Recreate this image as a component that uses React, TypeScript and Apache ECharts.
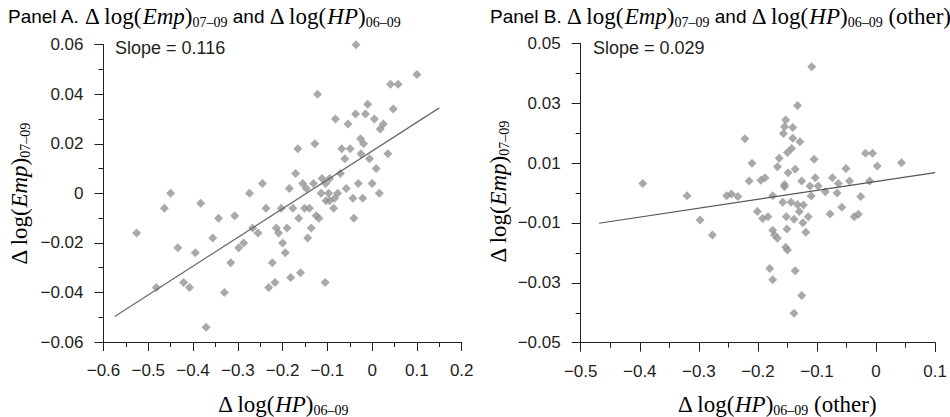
import React, { useEffect, useRef } from "react";
import * as echarts from "echarts";

// ---------- DATA ----------
const panelA_x = [
  -0.036, 0.100, 0.041, 0.058, -0.122, -0.010, 0.047, -0.082, -0.037, -0.015,
  0.005, -0.054, 0.025, 0.018, -0.026, -0.019, -0.128, -0.166, -0.068, -0.049,
  -0.061, -0.025, -0.006, 0.035, 0.009, -0.171, -0.071, -0.112, -0.095, -0.155,
  -0.131, -0.104, -0.245, -0.185, -0.147, -0.058, -0.031, 0.000, -0.450, -0.274,
  -0.114, -0.097, -0.077, -0.043, -0.021, 0.016, -0.464, -0.383, -0.237, -0.203,
  -0.177, -0.151, -0.140, -0.095, -0.086, -0.084, -0.103, -0.343, -0.307, -0.164,
  -0.125, -0.119, -0.041, -0.526, -0.267, -0.255, -0.214, -0.209, -0.190, -0.136,
  -0.144, -0.356, -0.434, -0.395, -0.287, -0.298, -0.200, -0.194, -0.316, -0.223,
  -0.160, -0.182, -0.105, -0.421, -0.408, -0.482, -0.231, -0.217, -0.330, -0.371,
];
const panelA_y = [
  0.060, 0.048, 0.044, 0.044, 0.040, 0.036, 0.034, 0.030, 0.032, 0.032,
  0.030, 0.028, 0.028, 0.026, 0.022, 0.020, 0.020, 0.018, 0.018, 0.018,
  0.014, 0.016, 0.014, 0.016, 0.010, 0.008, 0.008, 0.006, 0.006, 0.004,
  0.004, 0.004, 0.004, 0.002, 0.002, 0.002, 0.004, 0.004, 0.000, 0.000,
  0.000, 0.000, 0.000, -0.002, -0.002, 0.000, -0.006, -0.004, -0.006, -0.006,
  -0.006, -0.006, -0.006, -0.003, -0.006, -0.002, -0.003, -0.010, -0.009, -0.010,
  -0.009, -0.010, -0.010, -0.016, -0.014, -0.016, -0.014, -0.016, -0.014, -0.014,
  -0.018, -0.018, -0.022, -0.024, -0.020, -0.022, -0.020, -0.024, -0.028, -0.028,
  -0.032, -0.034, -0.036, -0.036, -0.038, -0.038, -0.038, -0.036, -0.040, -0.054,
];
const panelB_x = [
  -0.109, -0.133, -0.153, -0.155, -0.141, -0.157, -0.141, -0.129, -0.222, -0.143,
  -0.150, -0.164, -0.105, -0.210, -0.018, -0.006, 0.002, 0.043, -0.167, -0.137,
  -0.149, -0.051, -0.395, -0.215, -0.195, -0.188, -0.103, -0.074, -0.045, -0.011,
  -0.155, -0.155, -0.126, -0.112, -0.098, -0.086, -0.064, -0.066, -0.320, -0.253,
  -0.245, -0.234, -0.175, -0.026, -0.158, -0.144, -0.133, -0.123, -0.110, -0.201,
  -0.192, -0.183, -0.152, -0.130, -0.115, -0.139, -0.124, -0.298, -0.078, -0.058,
  -0.037, -0.030, -0.277, -0.175, -0.172, -0.167, -0.151, -0.119, -0.153, -0.150,
  -0.180, -0.137, -0.175, -0.126, -0.139,
];
const panelB_y = [
  0.0422, 0.0292, 0.0244, 0.0221, 0.0219, 0.0199, 0.0183, 0.0171, 0.0181, 0.0149,
  0.0135, 0.0116, 0.0113, 0.0099, 0.0133, 0.0133, 0.0090, 0.0101, 0.0088, 0.0079,
  0.0068, 0.0082, 0.0032, 0.0040, 0.0043, 0.0051, 0.0051, 0.0051, 0.0040, 0.0040,
  0.0028, 0.0021, 0.0040, 0.0023, 0.0023, 0.0004, 0.0032, 0.0000, -0.0009, -0.0009,
  -0.0003, -0.0012, -0.0009, -0.0012, -0.0031, -0.0031, -0.0038, -0.0040, -0.0010, -0.0062,
  -0.0085, -0.0079, -0.0079, -0.0062, -0.0079, -0.0088, -0.0099, -0.0090, -0.0070, -0.0048,
  -0.0079, -0.0071, -0.0140, -0.0124, -0.0140, -0.0151, -0.0120, -0.0131, -0.0181, -0.0190,
  -0.0252, -0.0260, -0.0290, -0.0342, -0.0402,
];
// fitted lines (end points)
const fitA_x = [-0.575, 0.15];
const fitA_y = [-0.0497, 0.0345];
const fitB_x = [-0.469, 0.1];
const fitB_y = [-0.0101, 0.0068];
const slopeA = "0.116";
const slopeB = "0.029";

// tick values
const xTicksA = [-0.6, -0.5, -0.4, -0.3, -0.2, -0.1, 0, 0.1, 0.2];
const yTicksA = [-0.06, -0.04, -0.02, 0, 0.02, 0.04, 0.06];
const xTicksB = [-0.5, -0.4, -0.3, -0.2, -0.1, 0, 0.1];
const yTicksB = [-0.05, -0.03, -0.01, 0.01, 0.03, 0.05];
const yMinorB = [-0.04, -0.02, 0, 0.02, 0.04];

const SANS = "'Liberation Sans', Arial, Helvetica, sans-serif";
const SERIF = "'Liberation Serif', 'Times New Roman', serif";
const INK = "#231f20";
const DOT = "#939393";

const fmt = (v: number) => {
  const r = Math.round(v * 10000) / 10000;
  if (r === 0) return "0";
  return String(r).replace("-", "\u2212");
};

const rich = {
  sans: { fontFamily: SANS, fontSize: 19, lineHeight: 26, color: INK },
  ser: { fontFamily: SERIF, fontSize: 23, lineHeight: 26, color: INK },
  it: { fontFamily: SERIF, fontSize: 23, lineHeight: 26, fontStyle: "italic", color: INK },
  sub: { fontFamily: SERIF, fontSize: 14, lineHeight: 12, verticalAlign: "bottom", color: INK },
};

const titleA =
  "{sans|Panel A. }{ser|\u0394 log(}{it|Emp}{ser|)}{sub|07\u201309}{sans| and }{ser|\u0394 log(}{it|HP}{ser|)}{sub|06\u201309}";
const titleB =
  "{sans|Panel B. }{ser|\u0394 log(}{it|Emp}{ser|)}{sub|07\u201309}{sans| and }{ser|\u0394 log(}{it|HP}{ser|)}{sub|06\u201309}{ser| (other)}";
const yName = "{ser|\u0394 log(}{it|Emp}{ser|)}{sub|07\u201309}";
const xNameA = "{ser|\u0394 log(}{it|HP}{ser|)}{sub|06\u201309}";
const xNameB = "{ser|\u0394 log(}{it|HP}{ser|)}{sub|06\u201309}{ser| (other)}";

const zip = (xs: number[], ys: number[]) => xs.map((x, i) => [x, ys[i]]);

function valueAxis(grid: number, ticks: number[], opts: any = {}) {
  return {
    type: "value",
    gridIndex: grid,
    min: ticks[0],
    max: ticks[ticks.length - 1],
    interval: ticks[1] - ticks[0],
    splitLine: { show: false },
    axisLine: { show: true, onZero: false, lineStyle: { color: INK, width: 1 } },
    axisTick: { show: true, length: 9, lineStyle: { color: INK, width: 1 } },
    minorTick: { show: true, splitNumber: 2, length: 5, lineStyle: { color: INK, width: 1 } },
    axisLabel: {
      fontFamily: SANS,
      fontSize: 17,
      color: INK,
      margin: 20,
      formatter: fmt,
      showMinLabel: true,
      showMaxLabel: true,
    },
    ...opts,
  };
}

export default function App() {
  const ref = useRef<HTMLDivElement>(null);
  useEffect(() => {
    if (!ref.current) return;
    const chart = echarts.init(ref.current, undefined, { renderer: "svg" });
    const yB = valueAxis(1, [-0.05, 0.05], {
      interval: 0.01,
      position: "left",
      minorTick: { show: false },
      axisTick: { show: true, length: 9, customValues: yTicksB, lineStyle: { color: INK, width: 1 } },
      axisLabel: {
        fontFamily: SANS,
        fontSize: 17,
        color: INK,
        margin: 20,
        formatter: fmt,
        customValues: yTicksB,
      },
    });
    const yBminor = valueAxis(1, [-0.05, 0.05], {
      interval: 0.01,
      position: "left",
      offset: 0,
      minorTick: { show: false },
      axisLine: { show: false, onZero: false },
      axisLabel: { show: false },
      axisTick: { show: true, length: 5, customValues: yMinorB, lineStyle: { color: INK, width: 1 } },
    });
    const option: any = {
      animation: false,
      backgroundColor: "#ffffff",
      grid: [
        { left: 103.5, top: 44.7, width: 358.2, height: 297.3 },
        { left: 580.7, top: 43.3, width: 358, height: 299.4 },
      ],
      xAxis: [valueAxis(0, xTicksA), valueAxis(1, xTicksB)],
      yAxis: [valueAxis(0, yTicksA), yB, yBminor],
      series: [
        {
          type: "scatter",
          xAxisIndex: 0,
          yAxisIndex: 0,
          symbol: "diamond",
          symbolSize: 9,
          itemStyle: { color: DOT },
          data: zip(panelA_x, panelA_y),
        },
        {
          type: "line",
          xAxisIndex: 0,
          yAxisIndex: 0,
          symbol: "none",
          lineStyle: { color: "#6a6a6a", width: 1.2 },
          data: zip(fitA_x, fitA_y),
          z: 3,
        },
        {
          type: "scatter",
          xAxisIndex: 1,
          yAxisIndex: 1,
          symbol: "diamond",
          symbolSize: 9,
          itemStyle: { color: DOT },
          data: zip(panelB_x, panelB_y),
        },
        {
          type: "line",
          xAxisIndex: 1,
          yAxisIndex: 1,
          symbol: "none",
          lineStyle: { color: "#555555", width: 1.2 },
          data: zip(fitB_x, fitB_y),
          z: 3,
        },
      ],
      graphic: [
        { type: "text", x: 8, y: 16, style: { text: titleA, rich, align: "left", verticalAlign: "middle" } },
        { type: "text", x: 490, y: 16, style: { text: titleB, rich, align: "left", verticalAlign: "middle" } },
        {
          type: "text",
          x: 115,
          y: 48,
          style: { text: "Slope = " + slopeA, fontFamily: SANS, fontSize: 18, fill: INK, align: "left", verticalAlign: "middle" },
        },
        {
          type: "text",
          x: 593,
          y: 48,
          style: { text: "Slope = " + slopeB, fontFamily: SANS, fontSize: 18, fill: INK, align: "left", verticalAlign: "middle" },
        },
        { type: "text", x: 283, y: 404, style: { text: xNameA, rich, align: "center", verticalAlign: "middle" } },
        { type: "text", x: 777, y: 404, style: { text: xNameB, rich, align: "center", verticalAlign: "middle" } },
        {
          type: "text",
          x: 19,
          y: 194,
          rotation: Math.PI / 2,
          style: { text: yName, rich, align: "center", verticalAlign: "middle" },
        },
        {
          type: "text",
          x: 498,
          y: 192,
          rotation: Math.PI / 2,
          style: { text: yName, rich, align: "center", verticalAlign: "middle" },
        },
      ],
    };
    chart.setOption(option);
    return () => chart.dispose();
  }, []);
  return (
    <div
      ref={ref}
      style={{ position: "absolute", left: 0, top: 0, width: 950, height: 417, background: "#fff" }}
    />
  );
}
